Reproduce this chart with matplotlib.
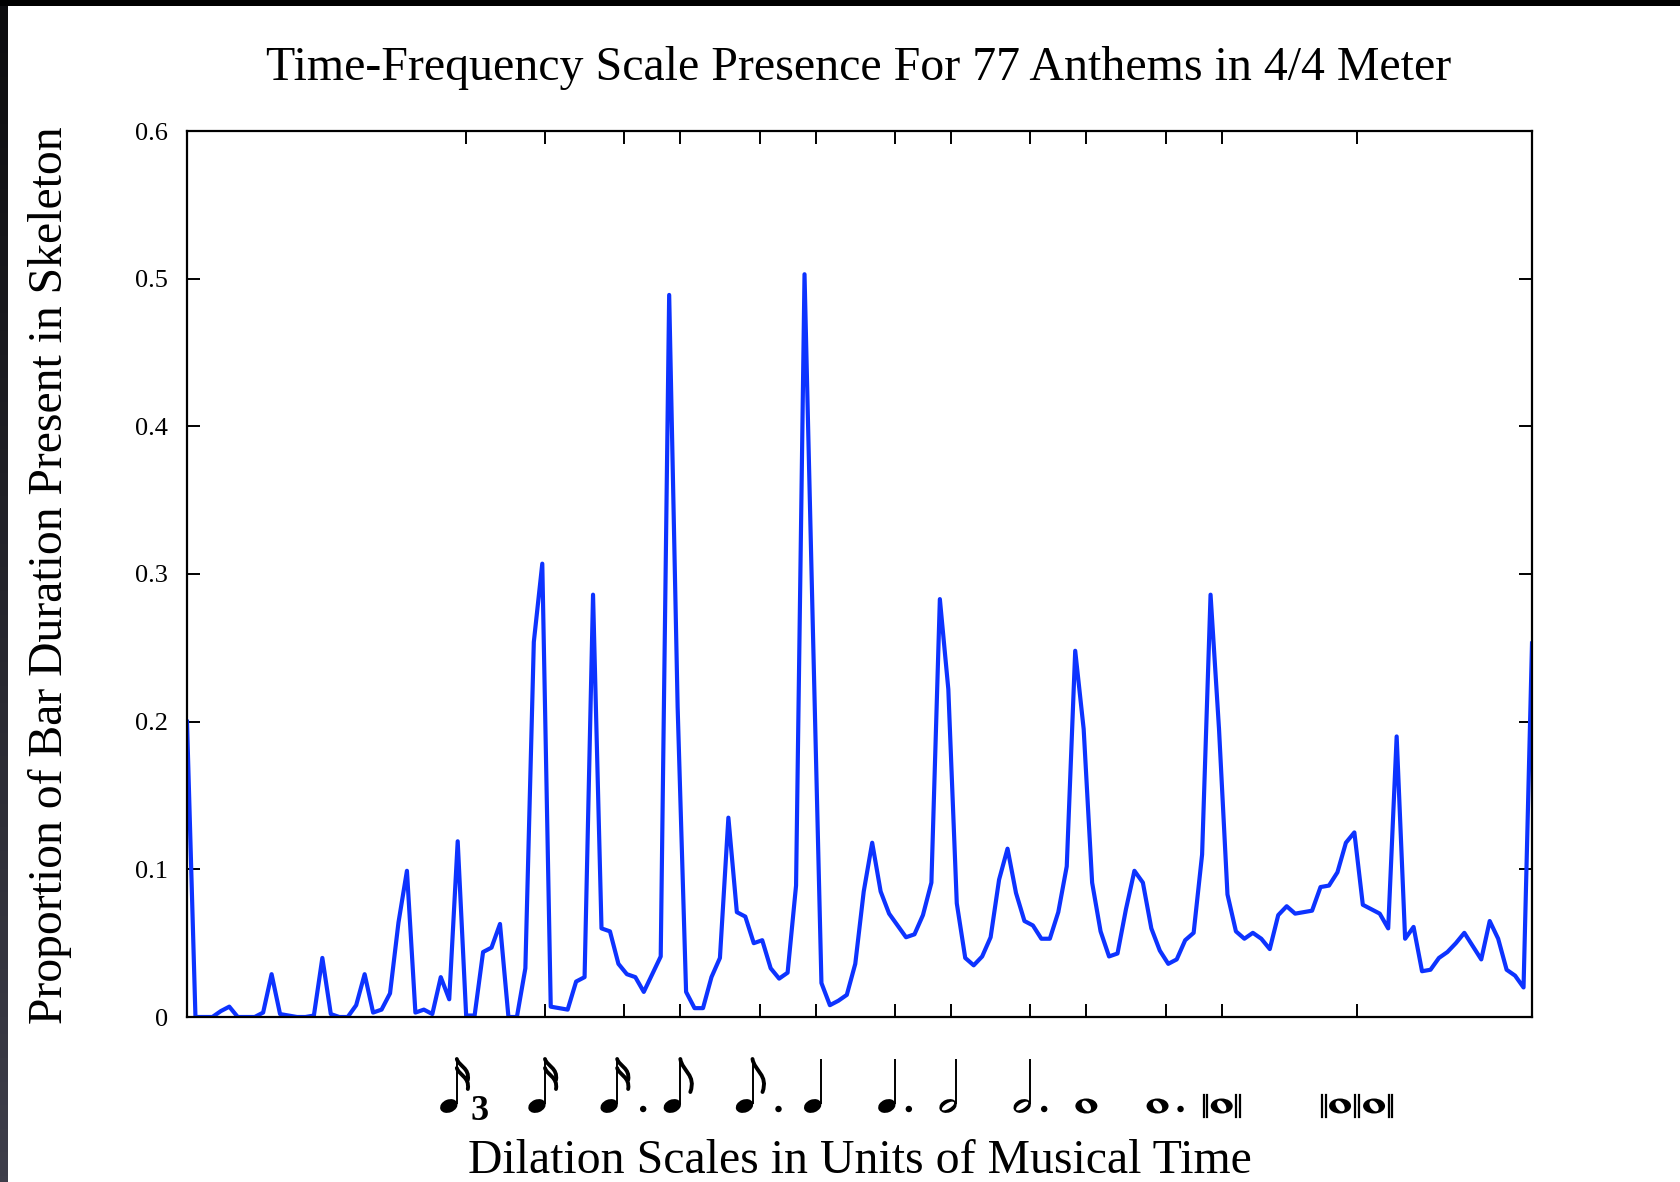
import numpy as np
import matplotlib
matplotlib.use('Agg')
import matplotlib.pyplot as plt
from matplotlib.patches import Ellipse, Circle, Rectangle, PathPatch
from matplotlib.path import Path
from matplotlib.colors import LinearSegmentedColormap

# =================================================================
# DATA
# =================================================================

# scale index: 16 voices per octave
scale_index = np.arange(160)

presence = [
    0.200, 0.000, 0.000, 0.000, 0.004, 0.007, 0.000, 0.000, 0.000, 0.003,
    0.029, 0.002, 0.001, 0.000, 0.000, 0.001, 0.040, 0.002, 0.000, 0.000,
    0.008, 0.029, 0.003, 0.005, 0.016, 0.064, 0.099, 0.003, 0.005, 0.002,
    0.027, 0.012, 0.119, 0.001, 0.001, 0.044, 0.047, 0.063, 0.000, 0.000,
    0.033, 0.254, 0.307, 0.007, 0.006, 0.005, 0.024, 0.027, 0.286, 0.060,
    0.058, 0.036, 0.029, 0.027, 0.017, 0.029, 0.041, 0.489, 0.210, 0.017,
    0.006, 0.006, 0.027, 0.040, 0.135, 0.071, 0.068, 0.050, 0.052, 0.033,
    0.026, 0.030, 0.089, 0.503, 0.260, 0.023, 0.008, 0.011, 0.015, 0.036,
    0.085, 0.118, 0.085, 0.070, 0.062, 0.054, 0.056, 0.069, 0.091, 0.283,
    0.222, 0.077, 0.040, 0.035, 0.041, 0.054, 0.093, 0.114, 0.084, 0.065,
    0.062, 0.053, 0.053, 0.071, 0.102, 0.248, 0.195, 0.091, 0.058, 0.041,
    0.043, 0.073, 0.099, 0.091, 0.060, 0.045, 0.036, 0.039, 0.052, 0.057,
    0.110, 0.286, 0.195, 0.083, 0.058, 0.053, 0.057, 0.053, 0.046, 0.069,
    0.075, 0.070, 0.071, 0.072, 0.088, 0.089, 0.098, 0.118, 0.125, 0.076,
    0.073, 0.070, 0.060, 0.190, 0.053, 0.061, 0.031, 0.032, 0.040, 0.044,
    0.050, 0.057, 0.048, 0.039, 0.065, 0.053, 0.032, 0.028, 0.020, 0.253,
]

# x ticks: note durations in sixteenth-note units
note_durations = [2/3, 1, 1.5, 2, 3, 4, 6, 8, 12, 16, 24, 32, 64]
note_kinds = ['triplet16', '16', 'dotted16', '8', 'dotted8', '4', 'dotted4',
              '2', 'dotted2', '1', 'dotted1', 'breve', 'longa']

y_ticks = [0, 0.1, 0.2, 0.3, 0.4, 0.5, 0.6]
y_tick_labels = ['0', '0.1', '0.2', '0.3', '0.4', '0.5', '0.6']

VOICES_PER_OCTAVE = 16
SIXTEENTH_INDEX = 42.32     # scale index of a sixteenth note

TITLE = 'Time-Frequency Scale Presence For 77 Anthems in 4/4 Meter'
XLABEL = 'Dilation Scales in Units of Musical Time'
YLABEL = 'Proportion of Bar Duration Present in Skeleton'

BLUE = '#0d33ff'
W, H = 1680, 1182
HEAD_Y = 1106          # note head centre (pixels from top)
STEM_LEN = 47

plt.rcParams['font.family'] = ['Liberation Serif', 'DejaVu Serif']


# =================================================================
# NOTE GLYPHS (drawn on a full-figure overlay in pixel units)
# =================================================================

def note_head(ov, x, hollow=False):
    ov.add_patch(Ellipse((x, HEAD_Y), 18, 13, angle=-22,
                         facecolor='black', lw=0))
    if hollow:
        ov.add_patch(Ellipse((x, HEAD_Y), 14, 5.5, angle=-32,
                             facecolor='white', lw=0))


def note_stem(ov, x):
    sx = x + 8.0
    ov.plot([sx, sx], [HEAD_Y - 2, HEAD_Y - STEM_LEN], color='black',
            lw=1.4, solid_capstyle='butt')
    return sx


def note_flags(ov, sx, n):
    top = HEAD_Y - STEM_LEN
    codes = [Path.MOVETO, Path.CURVE4, Path.CURVE4, Path.CURVE4]
    if n == 1:
        verts = [(sx, top), (sx + 2, top + 12), (sx + 16, top + 16), (sx + 10, top + 33)]
        ov.add_patch(PathPatch(Path(verts, codes), fill=False, lw=2.8,
                               capstyle='round'))
        return
    for k in range(n):
        y0 = top + k * 9
        verts = [(sx, y0), (sx + 2, y0 + 7), (sx + 13, y0 + 9), (sx + 11, y0 + 21)]
        ov.add_patch(PathPatch(Path(verts, codes), fill=False, lw=2.8,
                               capstyle='round'))


def note_dot(ov, x):
    ov.add_patch(Circle((x, HEAD_Y + 3), 3.2, color='black', lw=0))


def whole_note(ov, x):
    ov.add_patch(Ellipse((x, HEAD_Y), 22, 15, facecolor='black', lw=0))
    ov.add_patch(Ellipse((x, HEAD_Y), 7.5, 12, angle=-35, facecolor='white', lw=0))


def breve_bars(ov, x):
    ov.plot([x, x], [HEAD_Y - 11, HEAD_Y + 11], color='black', lw=1.6)


def draw_note_label(ov, x, kind):
    dotted = kind.startswith('dotted')
    base = kind.replace('dotted', '')
    if base == 'triplet16':
        hx = x - 17
        note_head(ov, hx)
        note_flags(ov, note_stem(ov, hx), 2)
        ov.text(x + 14, HEAD_Y + 6, '3', fontsize=26, fontweight='bold',
                ha='center', va='center')
    elif base in ('16', '8'):
        hx = x - (15 if dotted else 8)
        note_head(ov, hx)
        note_flags(ov, note_stem(ov, hx), 2 if base == '16' else 1)
        if dotted:
            note_dot(ov, x + 19)
    elif base in ('4', '2'):
        hx = x - (8 if dotted else 3)
        note_head(ov, hx, hollow=(base == '2'))
        note_stem(ov, hx)
        if dotted:
            note_dot(ov, x + 14)
    elif base == '1':
        hx = x - (8 if dotted else 0)
        whole_note(ov, hx)
        if dotted:
            note_dot(ov, x + 15)
    elif base == 'breve':
        whole_note(ov, x)
        for dx in (-18, -14.5, 14.5, 18):
            breve_bars(ov, x + dx)
    elif base == 'longa':
        whole_note(ov, x - 17)
        whole_note(ov, x + 17)
        for dx in (-35, -31.5, -2, 2, 31.5, 35):
            breve_bars(ov, x + dx)


# =================================================================
# FIGURE
# =================================================================

fig = plt.figure(figsize=(W / 100, H / 100), dpi=100, facecolor='white')
ax = fig.add_axes([187 / W, 165 / H, 1345 / W, 886 / H])

ax.plot(scale_index, presence, color=BLUE, lw=3.0, solid_joinstyle='round')
ax.set_xlim(scale_index[0], scale_index[-1])
ax.set_ylim(0, 0.6)

tick_pos = SIXTEENTH_INDEX + VOICES_PER_OCTAVE * np.log2(note_durations)
ax.set_xticks(tick_pos)
ax.set_xticklabels([])
ax.set_yticks(y_ticks)
ax.set_yticklabels(y_tick_labels)
ax.tick_params(axis='both', direction='in', length=9.4, width=1.4,
               top=True, right=True, colors='black')
ax.tick_params(axis='y', labelsize=19, pad=13.5)
for sp in ax.spines.values():
    sp.set_linewidth(1.6)
    sp.set_color('black')

fig.text(859 / W, 1 - 80 / H, TITLE, ha='center', va='baseline', fontsize=34.5)
fig.text(860 / W, 1 - 1173 / H, XLABEL, ha='center', va='baseline', fontsize=34.4)
fig.text(50 / W, 1 - 575 / H, YLABEL, rotation=90, ha='center', va='center',
         fontsize=34.3)

# overlay in pixel coordinates (y down) for the note glyphs and frame edges
ov = fig.add_axes([0, 0, 1, 1], zorder=5)
ov.patch.set_alpha(0)
ov.axis('off')

ov.add_patch(Rectangle((0, 0), W, 6, color='black', lw=0))
edge_cmap = LinearSegmentedColormap.from_list('edge', ['#0c0c0e', '#3e3e4a'])
ov.imshow(np.linspace(0, 1, 200).reshape(-1, 1), extent=[0, 8, H, 0],
          cmap=edge_cmap, aspect='auto')
ov.set_xlim(0, W)
ov.set_ylim(H, 0)

for t, kind in zip(tick_pos, note_kinds):
    px = ax.transData.transform((t, 0))[0]
    draw_note_label(ov, px, kind)

fig.savefig('out.png', dpi=100, facecolor='white')
